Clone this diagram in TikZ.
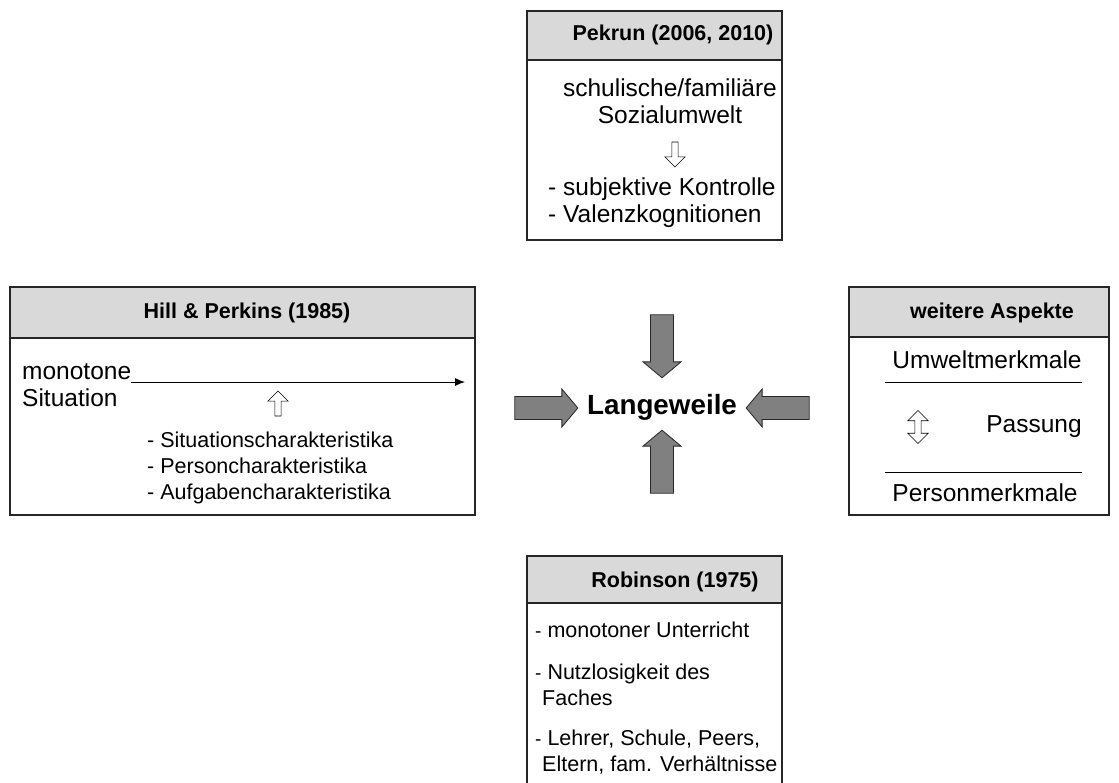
\documentclass[tikz,border=0pt]{standalone}
\usepackage{fontspec}
\setmainfont{Liberation Sans}
\usetikzlibrary{arrows.meta,shapes.arrows}
\newcommand*\bigtxt{\fontsize{24.5}{27}\selectfont}
\newcommand*\smalltxt{\fontsize{21.5}{26}\selectfont}
\newcommand*\itemdash{{\fontsize{19}{19}\selectfont-}\ }

\begin{document}
\begin{tikzpicture}[x=1pt,y=-1pt,>={Latex[length=10pt,width=8pt]},
  frame/.style={draw=black!85,line width=1.2pt},
  headbar/.style={fill=black!15},
  headtxt/.style={font=\smalltxt\bfseries,inner sep=0pt},
  bigtext/.style={font=\bigtxt,inner sep=0pt},
  smalltext/.style={font=\smalltxt,inner sep=0pt},
  sepline/.style={line width=0.8pt},
  fatarrow/.style={single arrow,draw=black!85,fill=black!50,line width=0.8pt,inner sep=10.5pt,
    minimum height=63pt,minimum width=38pt,single arrow tip angle=100},
  hollowarrow/.style={single arrow,draw=black,fill=white,line width=0.6pt,inner sep=2.8pt,
    minimum height=25pt,minimum width=13pt,single arrow tip angle=90},
  hollowdouble/.style={double arrow,draw=black,fill=white,line width=0.6pt,inner sep=2.8pt,
    minimum height=33pt,minimum width=13pt,double arrow tip angle=90}]
\useasboundingbox (0,0) rectangle (1119,783);

% Pekrun
\fill[headbar] (527,11) rectangle (782,60);
\draw[frame] (527,11) rectangle (782,240);
\draw[frame] (527,60) -- (782,60);
\node[headtxt] (pekHead) at (673,35) {Pekrun (2006, 2010)};
\node[bigtext,align=center] (pekEnv) at (670,101) {schulische/familiäre\\Sozialumwelt};
\node[hollowarrow,rotate=-90] (pekArr) at (675,153) {};
\node[bigtext,align=left,anchor=west] (pekList) at (548,203) {- subjektive Kontrolle\\- Valenzkognitionen};

% Hill & Perkins
\fill[headbar] (10,287) rectangle (475,338);
\draw[frame] (10,287) rectangle (475,515);
\draw[frame] (10,338) -- (475,338);
\node[headtxt] (hillHead) at (247,313) {Hill \& Perkins (1985)};
\node[bigtext,align=left,anchor=west] (hillSit) at (22,385) {monotone\\Situation};
\coordinate (hillEnd) at (465,382);
\draw[->,line width=0.9pt] (hillSit.east |- hillEnd) -- (hillEnd);
\node[hollowarrow,rotate=90] (hillArr) at (278,405) {};
\node[smalltext,align=left,anchor=west] (hillList) at (147,468) {- Situationscharakteristika\\- Personcharakteristika\\- Aufgabencharakteristika};

% weitere Aspekte
\fill[headbar] (849,287) rectangle (1109,337);
\draw[frame] (849,287) rectangle (1109,515);
\draw[frame] (849,337) -- (1109,337);
\node[headtxt] (furHead) at (992,313) {weitere Aspekte};
\node[bigtext] (furEnv) at (987,360) {Umweltmerkmale};
\draw[sepline] (885,382) -- (1082,382);
\node[hollowdouble,rotate=90] (furArr) at (918,427) {};
\node[bigtext] (furFit) at (1034,427) {Passung};
\draw[sepline] (885,472) -- (1082,472);
\node[bigtext] (furPers) at (985,493) {Personmerkmale};

% Robinson
\fill[headbar] (527,556) rectangle (782,603);
\draw[frame] (527,790) -- (527,556) -- (782,556) -- (782,790);
\draw[frame] (527,603) -- (782,603);
\node[headtxt] (robHead) at (675,582) {Robinson (1975)};
\node[smalltext,anchor=west] (robA) at (535,630) {\itemdash monotoner Unterricht};
\node[smalltext,align=left,anchor=west] (robB) at (535,685) {\itemdash Nutzlosigkeit des\\\hspace*{7pt}Faches};
\node[smalltext,align=left,anchor=west] (robC) at (535,752) {\itemdash Lehrer, Schule, Peers,\\\hspace*{7pt}Eltern, fam. Verhältnisse};

% centre
\node[font=\fontsize{27.8}{30}\selectfont\bfseries] (bore) at (662,407) {Langeweile};
\node[fatarrow,rotate=-90] (arrTop) at (662,341.5) {};
\node[fatarrow,rotate=90] (arrBot) at (662,466.5) {};
\node[fatarrow] (arrLeft) at (541.5,408) {};
\node[fatarrow,rotate=180] (arrRight) at (782.5,408) {};
\end{tikzpicture}
\end{document}
